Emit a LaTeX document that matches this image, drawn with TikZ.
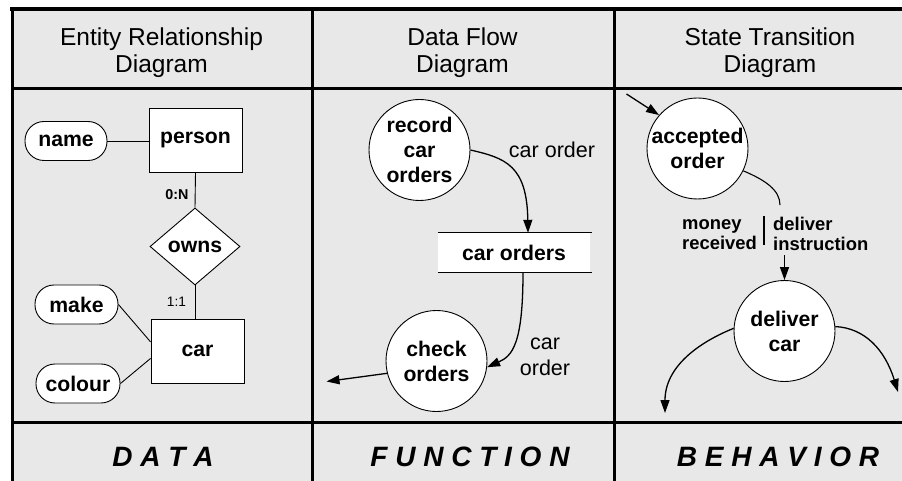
\documentclass[tikz,border=0pt]{standalone}
\usepackage{fontspec}
\setmainfont{Liberation Sans}
\usetikzlibrary{arrows.meta,shapes.geometric}
\definecolor{panel}{RGB}{232,232,232}

\begin{document}
\begin{tikzpicture}[x=1pt,y=-1pt,
  frameline/.style={line width=3pt},
  link/.style={line width=0.9pt},
  flow/.style={line width=1.3pt,-{Triangle[length=13pt,width=9pt]}},
  boldtext/.style={font=\fontsize{21.2}{25}\selectfont\bfseries},
  entity/.style={draw,fill=white,line width=0.9pt,minimum width=93pt,minimum height=64pt,inner sep=0pt,boldtext},
  attr/.style={draw,fill=white,line width=0.9pt,rounded corners=19pt,minimum height=39pt,inner sep=0pt,boldtext},
  relation/.style={diamond,draw,fill=white,line width=0.9pt,minimum width=90pt,minimum height=77pt,inner sep=0pt,boldtext},
  bubble/.style={circle,draw,fill=white,line width=0.9pt,minimum size=101pt,inner sep=0pt,align=center,boldtext},
  datastore/.style={fill=white,minimum width=152pt,minimum height=39pt,inner sep=0pt,boldtext},
  flowlabel/.style={inner sep=0pt,align=center,font=\fontsize{21.5}{26}\selectfont},
  translabel/.style={inner sep=0pt,align=left,anchor=west,font=\fontsize{18.4}{20}\selectfont\bfseries},
  head/.style={inner sep=0pt,align=center,font=\fontsize{24.5}{27}\selectfont},
  foot/.style={inner sep=0pt,font=\fontsize{28}{30}\selectfont\bfseries\itshape}
]
\useasboundingbox (0,0) rectangle (902,481);

% panel background and table rules
\fill[panel] (12,9) rectangle (906,486);
\draw[frameline,line width=3.5pt] (10,9) -- (906,9);
\draw[frameline] (12,7.5) -- (12,486);
\draw[frameline] (312,9) -- (312,486);
\draw[frameline] (614,9) -- (614,486);
\draw[frameline,line width=2.7pt] (12,88.7) -- (906,88.7);
\draw[frameline,line width=2.7pt] (12,422.7) -- (906,422.7);

% column headings
\node[head] at (161.5,52.3) {Entity Relationship\\Diagram};
\node[head] at (462.5,52.3) {Data Flow\\Diagram};
\node[head] at (770,52.3) {State Transition\\Diagram};

% column footers
\node[foot] at (163,457) {D A T A};
\node[foot] at (470,457) {F U N C T I O N};
\node[foot] at (778,457) {B E H A V I O R};

% ---- entity relationship diagram
\node[attr,minimum width=82pt] (name) at (66,141) {name};
\node[entity] (person) at (195.5,140) {person};
\node[relation] (owns) at (195,246.5) {owns};
\node[entity] (car) at (197.5,351) {car};
\node[attr,minimum width=83pt] (make) at (76.5,304.5) {make};
\node[attr,minimum width=84pt] (colour) at (78,383.5) {colour};
\node[inner sep=0pt,font=\fontsize{14.3}{16}\selectfont\bfseries] (cardN) at (177,195) {0:N};
\node[inner sep=0pt,font=\fontsize{13.7}{16}\selectfont] (cardOne) at (176.5,302) {1:1};

\draw[link] (name.east) -- (name.east -| person.west);
\draw[link] (person.south) -- (owns.north);
\draw[link] (owns.south) -- (owns.south |- car.north);
\draw[link] (make.east) -- (car.169);
\draw[link] (colour.east) -- (car.189);

% ---- data flow diagram
\node[bubble] (rec) at (419.5,150) {record\\car\\orders};
\node[datastore] (store) at (514,252.5) {car orders};
\draw[link] (store.north west) -- ([xshift=2pt]store.north east);
\draw[link] (store.south west) -- ([xshift=2pt]store.south east);
\node[bubble] (chk) at (436.5,361) {check\\orders};
\coordinate (dfdout) at (326.5,381.5);

\draw[flow] (rec.east) .. controls (505,158) and (527,165) .. ([xshift=14pt]store.north);
\draw[flow] ([xshift=9pt]store.south) .. controls (523,345) and (512,356) .. (chk.-7);
\draw[flow] (chk.194) -- (dfdout);

\node[flowlabel] (lblA) at (552,150) {car order};
\node[flowlabel] (lblB) at (545,357) {car\\order};

% ---- state transition diagram
\coordinate (init) at (626.5,94);
\node[bubble] (acc) at (697.5,148.5) {accepted\\order};
\draw[flow] (init) -- (acc.139);

\coordinate (trtop) at (780,205);
\draw[line width=1.1pt] (acc.-26) .. controls (765,180) and (780,190) .. (trtop);
\draw[line width=2pt] (764,216) -- (764,245);
\node[translabel] (cond) at (682,235) {money\\received};
\node[translabel] (act) at (773,233.5) {deliver\\instruction};

\node[bubble] (dcar) at (784.5,331) {deliver\\car};
\coordinate (trbot) at (784.5,255);
\draw[flow] (trbot) -- (dcar.north);

\coordinate (exitl) at (665,413);
\coordinate (exitr) at (898,392);
\draw[flow] (dcar.177) .. controls (702,341) and (665,365) .. (exitl);
\draw[flow] (dcar.5) .. controls (865,328) and (885,350) .. (exitr);
\end{tikzpicture}
\end{document}
